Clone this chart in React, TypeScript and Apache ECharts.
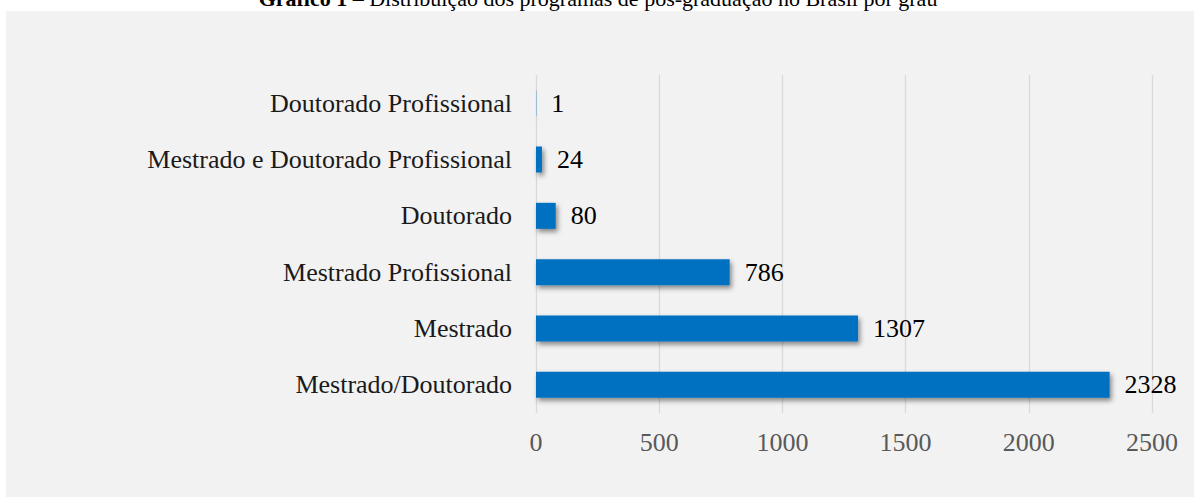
import React, { useEffect, useRef } from "react";
import * as echarts from "echarts";

const categories = [
  "Doutorado Profissional",
  "Mestrado e Doutorado Profissional",
  "Doutorado",
  "Mestrado Profissional",
  "Mestrado",
  "Mestrado/Doutorado",
];
const values = [1, 24, 80, 786, 1307, 2328];
const xMin = 0;
const xMax = 2500;
const xInterval = 500;
const titleBold = "Gráfico 1";
const titleRest = " – Distribuição dos programas de pós-graduação no Brasil por grau";

const FONT = "'Liberation Serif', 'Times New Roman', serif";

export default function App() {
  const ref = useRef<HTMLDivElement>(null);
  useEffect(() => {
    if (!ref.current) return;
    const chart = echarts.init(ref.current, null, { renderer: "svg" });
    chart.setOption({
      animation: false,
      backgroundColor: "#ffffff",
      graphic: [
        {
          type: "rect",
          z: -10,
          silent: true,
          shape: { x: 6, y: 11, width: 1188, height: 486 },
          style: { fill: "#f2f2f2" },
        },
        {
          type: "text",
          z: 10,
          x: 598,
          y: 9,
          style: {
            text: "{b|" + titleBold + "}" + titleRest,
            textAlign: "center",
            textVerticalAlign: "bottom",
            fontFamily: FONT,
            fontSize: 22,
            fill: "#000",
            rich: {
              b: { fontFamily: FONT, fontSize: 22, fontWeight: "bold", fill: "#000" },
            },
          },
        },
      ],
      grid: { left: 536, right: 48, top: 75, height: 338, containLabel: false },
      xAxis: {
        type: "value",
        min: xMin,
        max: xMax,
        interval: xInterval,
        axisLine: { show: false },
        axisTick: { show: false },
        splitLine: { show: true, lineStyle: { color: "#d9d9d9", width: 1.3 } },
        axisLabel: {
          color: "#595959",
          fontSize: 26,
          fontFamily: FONT,
          margin: 16,
          formatter: (v: number) => String(v),
        },
      },
      yAxis: {
        type: "category",
        inverse: true,
        data: categories,
        axisLine: { show: false },
        axisTick: { show: false },
        axisLabel: {
          color: "#1a1a1a",
          fontSize: 26,
          fontFamily: FONT,
          margin: 24,
        },
      },
      series: [
        {
          type: "bar",
          data: values,
          barWidth: 26,
          itemStyle: {
            color: "#0070c0",
            shadowColor: "rgba(0,0,0,0.45)",
            shadowBlur: 5,
            shadowOffsetX: 2,
            shadowOffsetY: 3,
          },
          label: {
            show: true,
            position: "right",
            distance: 15,
            color: "#000",
            fontSize: 26,
            fontFamily: FONT,
          },
        },
      ],
    });
    return () => chart.dispose();
  }, []);
  return (
    <div
      ref={ref}
      style={{ position: "absolute", left: 0, top: 0, width: 1200, height: 497 }}
    />
  );
}
